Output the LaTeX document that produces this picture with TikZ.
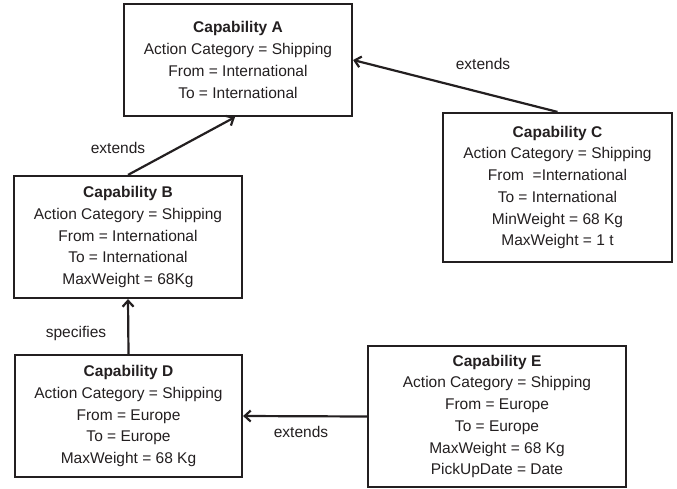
\documentclass[tikz,border=0pt]{standalone}
\usepackage{fontspec}
\setmainfont{Liberation Sans}
\usetikzlibrary{arrows.meta}
\definecolor{ink}{HTML}{231F20}
\begin{document}
\begin{tikzpicture}[x=1pt,y=-1pt,
  capbox/.style={draw=ink, line width=2.2pt, text=ink, align=center,
    font=\fontsize{15.5}{21.7}\selectfont, inner sep=0pt},
  arr/.style={draw=ink, line width=2.2pt, -{Straight Barb[length=6pt,width=11pt,line width=2.2pt]}},
  lbl/.style={text=ink, font=\fontsize{15.5}{18}\selectfont, inner sep=0pt}]
\useasboundingbox (0,0) rectangle (677,488);
\node[capbox, minimum width=228pt, minimum height=112pt] (A) at (238,60)
  {\textbf{Capability A}\\Action Category = Shipping\\From = International\\To = International};
\node[capbox, minimum width=228pt, minimum height=122pt] (B) at (128,237)
  {\textbf{Capability B}\\Action Category = Shipping\\From = International\\To = International\\MaxWeight = 68Kg};
\node[capbox, minimum width=229pt, minimum height=149pt] (C) at (557.5,187.5)
  {\textbf{Capability C}\\Action Category = Shipping\\From\ \ =International\\To = International\\MinWeight = 68 Kg\\MaxWeight = 1 t};
\node[capbox, minimum width=227pt, minimum height=122pt] (D) at (128.5,416)
  {\textbf{Capability D}\\Action Category = Shipping\\From = Europe\\To = Europe\\MaxWeight = 68 Kg};
\node[capbox, minimum width=258pt, minimum height=141pt] (E) at (497,416.5)
  {\textbf{Capability E}\\Action Category = Shipping\\From = Europe\\To = Europe\\MaxWeight = 68 Kg\\PickUpDate = Date};
\draw[arr] (B.north) -- ([xshift=-3pt]A.south);
\draw[arr] (C.north) -- (A.east);
\draw[arr] (D.north) -- (B.south);
\draw[arr] (E.west) -- (D.east);
\node[lbl] (l1) at (118,148) {extends};
\node[lbl] (l2) at (483,64) {extends};
\node[lbl] (l3) at (76,333) {specifies};
\node[lbl] (l4) at (301,432) {extends};
\end{tikzpicture}
\end{document}
